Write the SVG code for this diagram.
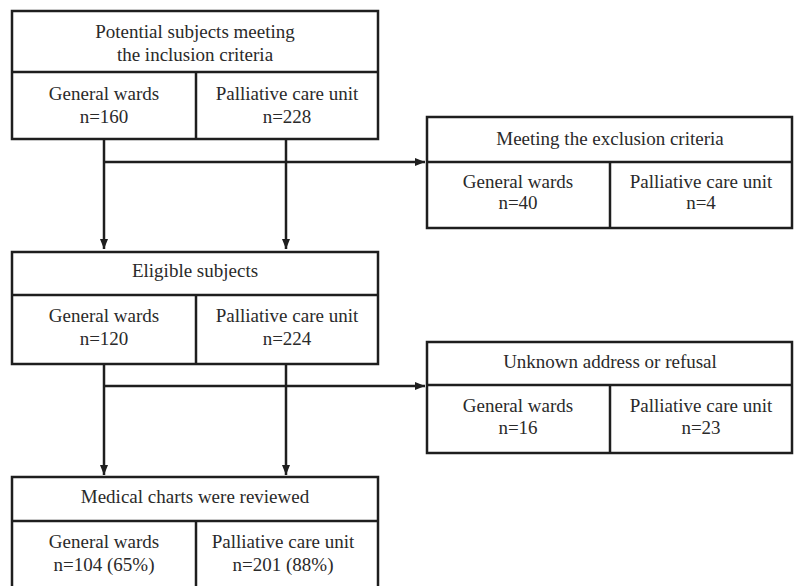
<svg xmlns="http://www.w3.org/2000/svg" width="794" height="586" viewBox="0 0 794 586">
<defs>
<marker id="ah" viewBox="0 0 10 10" refX="10" refY="5" markerWidth="10" markerHeight="10" markerUnits="userSpaceOnUse" orient="auto">
<path d="M0,1 L10,5 L0,9 Z" fill="#1e1e1e"/>
</marker>
<style>
.box{fill:#fff;stroke:#1e1e1e;stroke-width:2.5}
.ln{stroke:#1e1e1e;stroke-width:2.5;fill:none}
.t{font-family:"Liberation Serif","Times New Roman",serif;font-size:19px;fill:#2a2a2a;text-anchor:middle}
</style>
</defs>
<rect width="794" height="586" fill="#fff"/>
<g id="connectors">
<path class="ln" d="M104,139 V249" marker-end="url(#ah)"/>
<path class="ln" d="M286,139 V249" marker-end="url(#ah)"/>
<path class="ln" d="M104,162 H425" marker-end="url(#ah)"/>
<path class="ln" d="M104,364 V475" marker-end="url(#ah)"/>
<path class="ln" d="M286,364 V475" marker-end="url(#ah)"/>
<path class="ln" d="M104,386 H425" marker-end="url(#ah)"/>
</g>
<g id="potential">
<rect class="box" x="12" y="11" width="366" height="128"/>
<line class="ln" x1="12" y1="72" x2="378" y2="72"/>
<line class="ln" x1="196" y1="72" x2="196" y2="139"/>
<text class="t" x="195" y="38">Potential subjects meeting</text>
<text class="t" x="195" y="61">the inclusion criteria</text>
<text class="t" x="104" y="100">General wards</text>
<text class="t" x="104" y="123">n=160</text>
<text class="t" x="287" y="100">Palliative care unit</text>
<text class="t" x="287" y="123">n=228</text>
</g>
<g id="exclusion">
<rect class="box" x="427" y="117" width="365" height="111"/>
<line class="ln" x1="427" y1="162" x2="792" y2="162"/>
<line class="ln" x1="610" y1="162" x2="610" y2="228"/>
<text class="t" x="610" y="145">Meeting the exclusion criteria</text>
<text class="t" x="518" y="188">General wards</text>
<text class="t" x="518" y="209">n=40</text>
<text class="t" x="701" y="188">Palliative care unit</text>
<text class="t" x="701" y="209">n=4</text>
</g>
<g id="eligible">
<rect class="box" x="12" y="252" width="366" height="112"/>
<line class="ln" x1="12" y1="295" x2="378" y2="295"/>
<line class="ln" x1="196" y1="295" x2="196" y2="364"/>
<text class="t" x="195" y="277">Eligible subjects</text>
<text class="t" x="104" y="322">General wards</text>
<text class="t" x="104" y="345">n=120</text>
<text class="t" x="287" y="322">Palliative care unit</text>
<text class="t" x="287" y="345">n=224</text>
</g>
<g id="unknown">
<rect class="box" x="427" y="342" width="365" height="111"/>
<line class="ln" x1="427" y1="385" x2="792" y2="385"/>
<line class="ln" x1="610" y1="385" x2="610" y2="453"/>
<text class="t" x="610" y="368">Unknown address or refusal</text>
<text class="t" x="518" y="412">General wards</text>
<text class="t" x="518" y="434">n=16</text>
<text class="t" x="701" y="412">Palliative care unit</text>
<text class="t" x="701" y="434">n=23</text>
</g>
<g id="reviewed">
<rect class="box" x="12" y="477" width="366" height="120"/>
<line class="ln" x1="12" y1="521" x2="378" y2="521"/>
<line class="ln" x1="196" y1="521" x2="196" y2="597"/>
<text class="t" x="195" y="503">Medical charts were reviewed</text>
<text class="t" x="104" y="548">General wards</text>
<text class="t" x="104" y="571">n=104 (65%)</text>
<text class="t" x="283" y="548">Palliative care unit</text>
<text class="t" x="283" y="571">n=201 (88%)</text>
</g>
</svg>
